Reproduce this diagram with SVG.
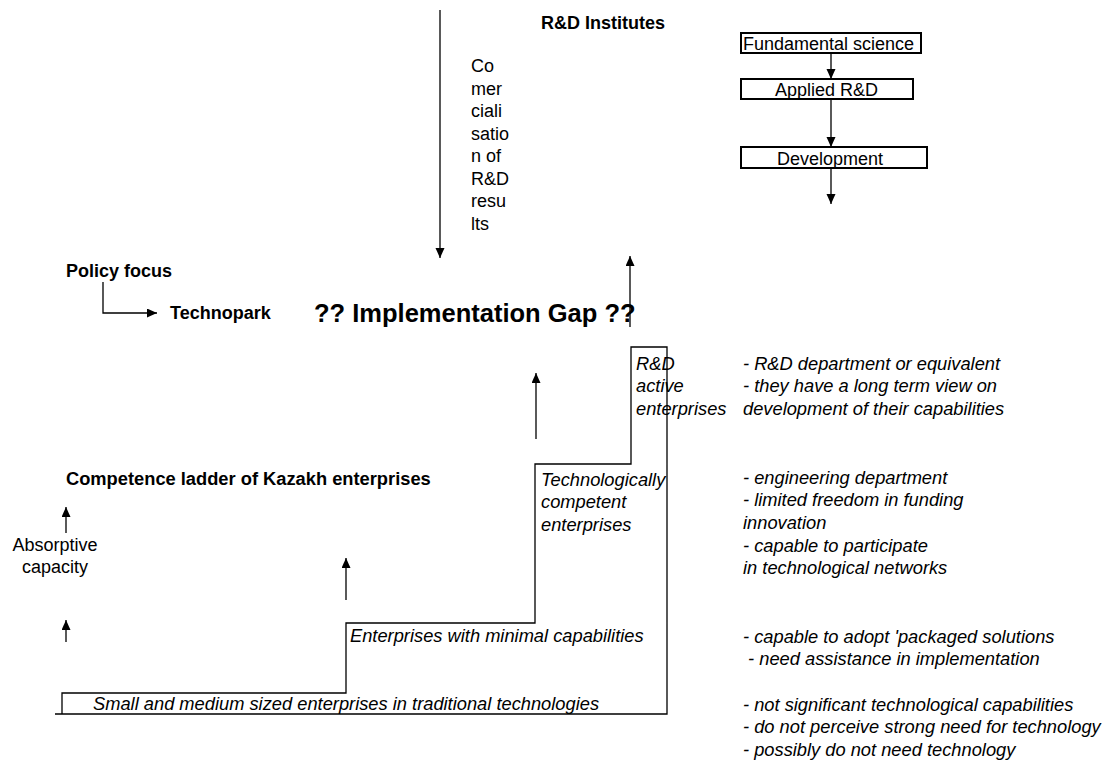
<svg xmlns="http://www.w3.org/2000/svg" width="1115" height="760" viewBox="0 0 1115 760">
<defs>
<marker id="ah" markerUnits="userSpaceOnUse" markerWidth="10" markerHeight="10" refX="10" refY="4.5" orient="auto">
<path d="M0,0 L10,4.5 L0,9 z" fill="#000"/>
</marker>
<style>
text{font-family:"Liberation Sans",Arial,sans-serif;fill:#000;}
.b{font-weight:bold;font-size:18px;}
.r{font-size:18px;}
.i{font-style:italic;font-size:18.3px;}
.big{font-weight:bold;font-size:25.5px;}
.ln{stroke:#000;stroke-width:1.3;fill:none;}
.ar{stroke:#000;stroke-width:1.3;fill:none;marker-end:url(#ah);}
.box{stroke:#000;stroke-width:2;fill:#fff;}
</style>
</defs>
<rect width="1115" height="760" fill="#fff"/>

<g id="connectors">
<line class="ar" x1="440" y1="10" x2="440" y2="258"/>
<line class="ar" x1="831" y1="53" x2="831" y2="79"/>
<line class="ar" x1="831" y1="99" x2="831" y2="147"/>
<line class="ar" x1="831" y1="168" x2="831" y2="204"/>
<path class="ar" d="M103,282 V313 H157"/>
<line class="ar" x1="630" y1="327" x2="630" y2="256"/>
<line class="ar" x1="536" y1="439" x2="536" y2="373"/>
<line class="ar" x1="346" y1="600" x2="346" y2="558"/>
<line class="ar" x1="66" y1="533" x2="66" y2="507"/>
<line class="ar" x1="66" y1="642" x2="66" y2="620"/>
</g>

<g id="ladder">
<path class="ln" d="M55,714 H667 V347 H631 V464 H535 V623 H346 V693 H62 V714"/>
</g>

<g id="rd-institutes">
<text class="b" x="541" y="29">R&amp;D Institutes</text>
</g>

<g id="commercialisation">
<text class="r" x="471" y="72">Co</text>
<text class="r" x="471" y="94.5">mer</text>
<text class="r" x="471" y="117">ciali</text>
<text class="r" x="471" y="139.5">satio</text>
<text class="r" x="471" y="162">n of</text>
<text class="r" x="471" y="184.5">R&amp;D</text>
<text class="r" x="471" y="207">resu</text>
<text class="r" x="471" y="229.5">lts</text>
</g>

<g id="fundamental-science">
<rect class="box" x="741" y="33" width="180" height="20"/>
<text class="r" x="743" y="49.5">Fundamental science</text>
</g>
<g id="applied-rd">
<rect class="box" x="741" y="79" width="172" height="20"/>
<text class="r" x="775" y="95.5">Applied R&amp;D</text>
</g>
<g id="development">
<rect class="box" x="741" y="147" width="186" height="21"/>
<text class="r" x="777" y="164.5">Development</text>
</g>

<g id="policy-focus">
<text class="b" x="66" y="277">Policy focus</text>
</g>
<g id="technopark">
<text class="b" x="170" y="319">Technopark</text>
</g>
<g id="implementation-gap">
<text class="big" x="314" y="322">?? Implementation Gap ??</text>
</g>

<g id="competence-ladder">
<text class="b" x="66" y="485" style="font-size:18.3px">Competence ladder of Kazakh enterprises</text>
</g>
<g id="absorptive-capacity">
<text class="r" x="55" y="551" text-anchor="middle">Absorptive</text>
<text class="r" x="55" y="573" text-anchor="middle">capacity</text>
</g>

<g id="rd-active">
<text class="i" x="636" y="369.5">R&amp;D</text>
<text class="i" x="636" y="392">active</text>
<text class="i" x="636" y="414.5">enterprises</text>
<text class="i" x="743" y="369.5">- R&amp;D department or equivalent</text>
<text class="i" x="743" y="392">- they have a long term view on</text>
<text class="i" x="743" y="414.5">development of their capabilities</text>
</g>

<g id="tech-competent">
<text class="i" x="541" y="485.5">Technologically</text>
<text class="i" x="541" y="508">competent</text>
<text class="i" x="541" y="530.5">enterprises</text>
<text class="i" x="743" y="483.5">- engineering department</text>
<text class="i" x="743" y="506">- limited freedom in funding</text>
<text class="i" x="743" y="528.5">innovation</text>
<text class="i" x="743" y="551.5">- capable to participate</text>
<text class="i" x="743" y="574">in technological networks</text>
</g>

<g id="minimal-capabilities">
<text class="i" x="350" y="642">Enterprises with minimal capabilities</text>
<text class="i" x="743" y="642.5">- capable to adopt 'packaged solutions</text>
<text class="i" x="743" y="665" xml:space="preserve"> - need assistance in implementation</text>
</g>

<g id="sme-traditional">
<text class="i" x="93" y="710">Small and medium sized enterprises in traditional technologies</text>
<text class="i" x="743" y="710.5">- not significant technological capabilities</text>
<text class="i" x="743" y="733">- do not perceive strong need for technology</text>
<text class="i" x="743" y="755.5">- possibly do not need technology</text>
</g>
</svg>
